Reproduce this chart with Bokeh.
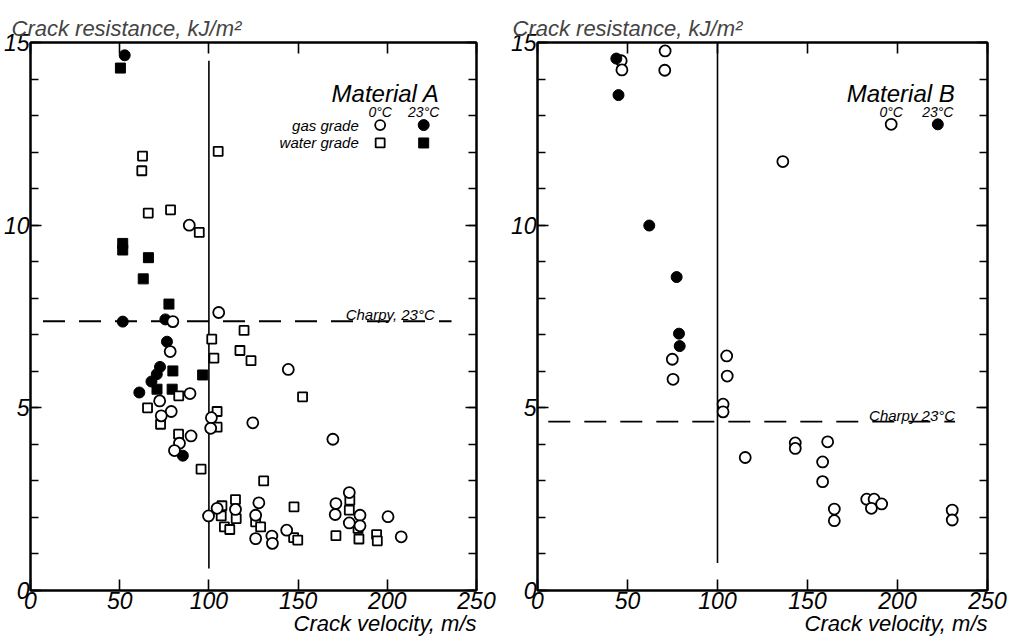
from bokeh.plotting import figure
from bokeh.layouts import row
from bokeh.models import FixedTicker, LinearAxis, Range1d, Title
from bokeh.core.properties import value
from bokeh.embed import file_html
from bokeh.resources import INLINE

FONT = "Liberation Sans"

# ---------------- data: Material A ----------------
a_gas_0c_x = [89, 105.5, 79.8, 78.3, 144.5, 89.4, 72.4, 78.9, 73.3, 90, 83.5, 80.7, 101.4, 101,
              124.6, 169.5, 99.8, 104.6, 114.9, 128, 126.2, 126.2, 135.3, 135.6, 143.6, 171.2,
              170.8, 178.7, 178.7, 184.7, 184.7, 200.4, 207.8]
a_gas_0c_y = [10.0, 7.61, 7.36, 6.54, 6.05, 5.39, 5.19, 4.9, 4.78, 4.23, 4.03, 3.83, 4.73, 4.44,
              4.59, 4.14, 2.04, 2.25, 2.22, 2.4, 2.06, 1.42, 1.49, 1.29, 1.65, 2.38,
              2.08, 2.68, 1.85, 2.06, 1.77, 2.02, 1.47]
a_gas_23c_x = [52.8, 51.7, 75.6, 76.5, 72.6, 70.8, 67.8, 61.0, 85.4]
a_gas_23c_y = [14.65, 7.36, 7.42, 6.81, 6.12, 5.92, 5.72, 5.42, 3.69]
a_water_0c_x = [62.8, 62.4, 66, 78.5, 94.6, 105.2, 119.7, 101.6, 117.4, 102.8, 123.6, 83.1, 65.6,
                72.9, 83, 95.6, 104.6, 104.6, 152.5, 130.7, 107.3, 106.9, 108.7, 111.7, 114.9,
                115.3, 126.2, 129, 147.7, 147.5, 149.8, 171.2, 179, 178.7, 183.6, 184.1, 194, 194.4]
a_water_0c_y = [11.89, 11.49, 10.33, 10.42, 9.8, 12.02, 7.12, 6.88, 6.57, 6.36, 6.29, 5.33, 5.0,
                4.55, 4.28, 3.32, 4.9, 4.47, 5.3, 3.0, 2.32, 2.04, 1.74, 1.67, 2.49,
                1.97, 1.88, 1.74, 2.29, 1.45, 1.38, 1.5, 2.47, 2.2, 1.7, 1.41, 1.53, 1.36]
a_water_23c_x = [50.4, 51.7, 51.7, 66.1, 63.2, 77.6, 79.8, 70.9, 79.4, 96.5]
a_water_23c_y = [14.3, 9.5, 9.32, 9.11, 8.53, 7.84, 6.01, 5.51, 5.51, 5.9]
a_charpy = 7.37

# ---------------- data: Material B ----------------
b_0c_x = [46.5, 46.9, 70.9, 70.7, 136.3, 74.9, 75.3, 105.1, 105.4, 103.1, 103.1, 115.4, 143.2,
          143.2, 161.2, 158.4, 158.4, 164.9, 164.9, 182.9, 187, 185.5, 191.2, 230.4, 230.4]
b_0c_y = [14.5, 14.25, 14.77, 14.24, 11.74, 6.33, 5.78, 6.42, 5.87, 5.1, 4.89, 3.64, 4.04,
          3.89, 4.07, 3.52, 2.98, 2.23, 1.91, 2.5, 2.5, 2.25, 2.37, 2.2, 1.93]
b_23c_x = [43.8, 45, 62.1, 77.3, 78.6, 79]
b_23c_y = [14.56, 13.56, 9.99, 8.58, 7.03, 6.69]
b_charpy = 4.62

x_ticks = [0, 50, 100, 150, 200, 250]
y_ticks = [0, 5, 10, 15]
y_minor = list(range(16))
x_title = "Crack velocity, m/s"
y_title = "Crack resistance, kJ/m²"

CIRC = 11
SQ = 9
LW = 1.8


def base(border_left, border_right, frame_w, frame_h, border_top, border_bottom):
    p = figure(frame_width=frame_w, frame_height=frame_h,
               x_range=Range1d(0, 250), y_range=Range1d(0, 15),
               output_backend="svg", toolbar_location=None,
               min_border_left=border_left, min_border_right=border_right,
               min_border_top=border_top, min_border_bottom=border_bottom,
               x_axis_location=None, y_axis_location=None)
    p.grid.visible = False
    p.outline_line_color = "black"
    p.outline_line_width = 2
    p.background_fill_color = "white"
    p.border_fill_color = "white"

    xt = FixedTicker(ticks=x_ticks)
    yt = FixedTicker(ticks=y_ticks, minor_ticks=y_minor)

    def style(ax, labels=True):
        ax.axis_line_color = "black"
        ax.axis_line_width = 2
        ax.major_tick_in = 11
        ax.major_tick_out = 0
        ax.minor_tick_in = 8
        ax.minor_tick_out = 0
        ax.major_tick_line_width = 1.6
        ax.minor_tick_line_width = 1.6
        ax.major_tick_line_color = "black"
        ax.minor_tick_line_color = "black"
        if labels:
            ax.major_label_text_font = FONT
            ax.major_label_text_font_style = "italic"
            ax.major_label_text_font_size = "23px"
            ax.major_label_text_color = "black"
        else:
            ax.major_label_overrides = {t: "" for t in ax.ticker.ticks}
            ax.major_label_standoff = 0

    bx = LinearAxis(ticker=xt)
    style(bx)
    bx.major_label_standoff = 1
    p.add_layout(bx, "below")

    # x-axis title, right-aligned under the frame's right end
    xt_title = Title(text=x_title, align="right", text_font=FONT,
                     text_font_style="italic", text_font_size="22px",
                     text_color="black", standoff=-6)
    p.add_layout(xt_title, "below")

    tx = LinearAxis(ticker=xt)
    style(tx, labels=False)
    p.add_layout(tx, "above")

    ly = LinearAxis(ticker=yt)
    style(ly)
    ly.major_label_standoff = 1
    p.add_layout(ly, "left")

    ry = LinearAxis(ticker=yt)
    style(ry, labels=False)
    p.add_layout(ry, "right")

    p.title.text = y_title
    p.title.align = "left"
    p.title.text_font = FONT
    p.title.text_font_style = "italic"
    p.title.text_font_size = "22px"
    p.title.offset = -border_left
    p.title.standoff = 4
    return p


def txt(p, x, y, s, size, align="right", baseline="alphabetic"):
    p.text(x=[x], y=[y], text=[s], text_font=value(FONT), text_font_style="italic",
           text_font_size=size, text_align=align, text_baseline=baseline, text_color="black")


# ---------------- left panel ----------------
pa = base(19, 31, 446, 548, 42, 48)
pa.segment(x0=[100], y0=[0.6], x1=[100], y1=[14.5], line_color="black", line_width=1.6)
pa.segment(x0=[7], y0=[a_charpy], x1=[236], y1=[a_charpy], line_color="black",
           line_width=1.8, line_dash="22 14")
pa.scatter(a_gas_23c_x, a_gas_23c_y, marker="circle", size=CIRC, fill_color="black", line_color="black")
pa.scatter(a_water_23c_x, a_water_23c_y, marker="square", size=SQ + 1, fill_color="black", line_color="black")
pa.scatter(a_water_0c_x, a_water_0c_y, marker="square", size=SQ, fill_color="white",
           line_color="black", line_width=LW)
pa.scatter(a_gas_0c_x, a_gas_0c_y, marker="circle", size=CIRC, fill_color="white",
           line_color="black", line_width=LW)

# legend (layout positions)
txt(pa, 229.3, 13.6, "Material A", "24px")
txt(pa, 196, 13.1, "0°C", "14px", align="center")
txt(pa, 220.4, 13.1, "23°C", "14px", align="center")
txt(pa, 184, 12.74, "gas grade", "15px", baseline="middle")
txt(pa, 184, 12.25, "water grade", "15px", baseline="middle")
pa.scatter([196], [12.74], marker="circle", size=CIRC - 1, fill_color="white", line_color="black", line_width=LW)
pa.scatter([220.4], [12.74], marker="circle", size=CIRC, fill_color="black", line_color="black")
pa.scatter([196], [12.25], marker="square", size=SQ, fill_color="white", line_color="black", line_width=LW)
pa.scatter([220.4], [12.25], marker="square", size=SQ + 1, fill_color="black", line_color="black")
txt(pa, 226.6, 7.55, "Charpy, 23°C", "15px")

# ---------------- right panel ----------------
pb = base(25, 20, 450, 548, 42, 48)
pb.segment(x0=[100], y0=[0.75], x1=[100], y1=[15], line_color="black", line_width=1.6)
pb.segment(x0=[6], y0=[b_charpy], x1=[232], y1=[b_charpy], line_color="black",
           line_width=1.8, line_dash="22 14")
pb.scatter(b_0c_x, b_0c_y, marker="circle", size=CIRC, fill_color="white",
           line_color="black", line_width=LW)
pb.scatter(b_23c_x, b_23c_y, marker="circle", size=CIRC, fill_color="black", line_color="black")

txt(pb, 231.8, 13.6, "Material B", "24px")
txt(pb, 196.5, 13.1, "0°C", "14px", align="center")
txt(pb, 222.4, 13.1, "23°C", "14px", align="center")
pb.scatter([196.5], [12.76], marker="circle", size=CIRC, fill_color="white", line_color="black", line_width=LW)
pb.scatter([222.4], [12.76], marker="circle", size=CIRC, fill_color="black", line_color="black")
txt(pb, 232, 4.78, "Charpy 23°C", "15px")

layout = row(pa, pb)
open("out.html", "w").write(file_html(layout, INLINE))
